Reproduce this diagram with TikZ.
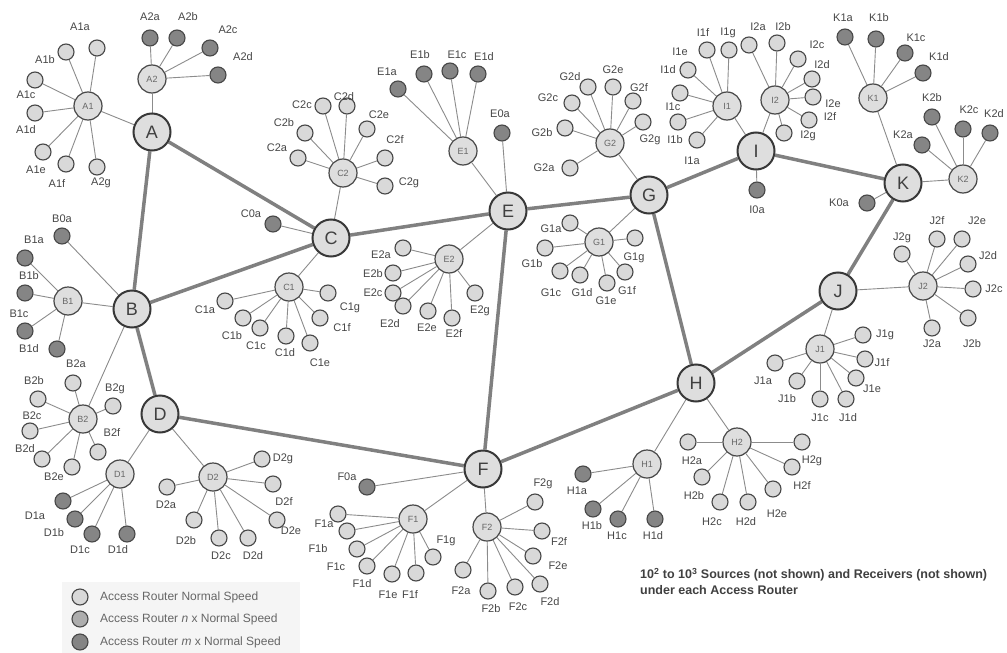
\documentclass[tikz,border=0pt]{standalone}
\usepackage{fontspec}
\setmainfont{Liberation Sans}
\usetikzlibrary{backgrounds}

\tikzset{
  core/.style={circle, draw=black!78, line width=2pt, fill=black!13, minimum size=37pt,
    inner sep=0pt, font=\fontsize{18}{18}\selectfont, text=black!75},
  acc/.style={circle, draw=black!72, line width=1.2pt, fill=black!13, minimum size=28pt,
    inner sep=0pt, font=\fontsize{9}{9}\selectfont, text=black!60},
  light/.style={circle, draw=black!72, line width=1.1pt, fill=black!15, minimum size=16pt, inner sep=0pt},
  dark/.style={light, fill=black!48},
  medium/.style={light, fill=black!32},
  lbl/.style={inner sep=0pt, font=\fontsize{11}{11}\selectfont, text=black!72},
  legendtext/.style={inner sep=0pt, anchor=west, font=\fontsize{12}{12}\selectfont, text=black!60},
  notetext/.style={inner sep=0pt, anchor=west, font=\bfseries\fontsize{12.5}{12.5}\selectfont, text=black!75},
  trunk/.style={draw=black!50, line width=3.5pt},
  twig/.style={draw=black!45, line width=0.9pt},
}

% leaf router: name, parent, position, label position, label text, style
\newcommand\leafnode[6]{%
  \node[#6] (#1) at (#3) {};
  \node[lbl] (#1-l) at (#4) {#5};
  \begin{scope}[on background layer]\draw[twig] (#2) -- (#1);\end{scope}}
% access router hanging from a core router
\newcommand\accnode[3]{%
  \node[acc] (#1) at (#3) {#1};
  \begin{scope}[on background layer]\draw[twig] (#2) -- (#1);\end{scope}}

\begin{document}
\begin{tikzpicture}[x=1pt, y=-1pt]
\useasboundingbox (0,0) rectangle (1007,653);
\begin{scope}[on background layer]
  \fill[white] (0,0) rectangle (1007,653);
  \fill[black!4] (62,582) rectangle (300,653);
\end{scope}

% ---------- core routers ----------
\node[core] (A) at (152,132) {A};
\node[core] (B) at (132,309) {B};
\node[core] (C) at (331,238) {C};
\node[core] (D) at (160,414) {D};
\node[core] (E) at (508,211) {E};
\node[core] (F) at (483,469) {F};
\node[core] (G) at (649,195) {G};
\node[core] (H) at (696,383) {H};
\node[core] (I) at (756,151) {I};
\node[core] (J) at (838,291) {J};
\node[core] (K) at (903,183) {K};

\begin{scope}[on background layer]
  \draw[trunk] (A) -- (B);
  \draw[trunk] (A) -- (C);
  \draw[trunk] (B) -- (C);
  \draw[trunk] (B) -- (D);
  \draw[trunk] (C) -- (E);
  \draw[trunk] (D) -- (F);
  \draw[trunk] (E) -- (F);
  \draw[trunk] (E) -- (G);
  \draw[trunk] (G) -- (I);
  \draw[trunk] (G) -- (H);
  \draw[trunk] (F) -- (H);
  \draw[trunk] (H) -- (J);
  \draw[trunk] (J) -- (K);
  \draw[trunk] (I) -- (K);
\end{scope}

% ---------- access routers ----------
\accnode{A1}{A}{88,106}
\accnode{A2}{A}{152,79}
\accnode{B1}{B}{68,301}
\accnode{B2}{B}{83,419}
\accnode{C1}{C}{289,287}
\accnode{C2}{C}{343,173}
\accnode{D1}{D}{120,474}
\accnode{D2}{D}{213,477}
\accnode{E1}{E}{463,151}
\accnode{E2}{E}{449,259}
\accnode{F1}{F}{413,519}
\accnode{F2}{F}{487,527}
\accnode{G1}{G}{599,242}
\accnode{G2}{G}{610,143}
\accnode{H1}{H}{647,464}
\accnode{H2}{H}{737,442}
\accnode{I1}{I}{727,106}
\accnode{I2}{I}{775,100}
\accnode{J1}{J}{820,349}
\accnode{J2}{J}{923,286}
\accnode{K1}{K}{873,98}
\accnode{K2}{K}{963,179}

% ---------- routers attached straight to the core ----------
\leafnode{B0a}{B}{62,236}{62,219}{B0a}{dark}
\leafnode{C0a}{C}{273,224}{251,214}{C0a}{dark}
\leafnode{E0a}{E}{502,133}{500,114}{E0a}{dark}
\leafnode{F0a}{F}{367,487}{347,477}{F0a}{dark}
\leafnode{I0a}{I}{757,190}{757,210}{I0a}{dark}
\leafnode{K0a}{K}{867,203}{839,203}{K0a}{dark}

% ---------- A ----------
\leafnode{A1a}{A1}{97,48}{80,27}{A1a}{light}
\leafnode{A1b}{A1}{66,52}{45,60}{A1b}{light}
\leafnode{A1c}{A1}{35,80}{26,95}{A1c}{light}
\leafnode{A1d}{A1}{35,113}{26,130}{A1d}{light}
\leafnode{A1e}{A1}{43,152}{36,170}{A1e}{light}
\leafnode{A1f}{A1}{66,164}{57,184}{A1f}{light}
\leafnode{A1g}{A1}{97,167}{101,183}{A2g}{light}
\leafnode{A2a}{A2}{150,38}{150,17}{A2a}{dark}
\leafnode{A2b}{A2}{177,38}{188,17}{A2b}{dark}
\leafnode{A2c}{A2}{210,48}{228,30}{A2c}{dark}
\leafnode{A2d}{A2}{218,75}{243,57}{A2d}{dark}

% ---------- B ----------
\leafnode{B1a}{B1}{25,258}{34,240}{B1a}{dark}
\leafnode{B1b}{B1}{25,293}{29,276}{B1b}{dark}
\leafnode{B1c}{B1}{25,331}{19,314}{B1c}{dark}
\leafnode{B1d}{B1}{57,349}{29,349}{B1d}{dark}
\leafnode{B2a}{B2}{73,383}{76,364}{B2a}{light}
\leafnode{B2b}{B2}{38,399}{34,381}{B2b}{light}
\leafnode{B2c}{B2}{30,431}{32,416}{B2c}{light}
\leafnode{B2d}{B2}{42,459}{25,449}{B2d}{light}
\leafnode{B2e}{B2}{72,467}{54,477}{B2e}{light}
\leafnode{B2f}{B2}{98,452}{112,433}{B2f}{light}
\leafnode{B2g}{B2}{113,406}{115,389}{B2g}{light}

% ---------- C ----------
\leafnode{C1a}{C1}{225,301}{205,310}{C1a}{light}
\leafnode{C1b}{C1}{243,318}{232,336}{C1b}{light}
\leafnode{C1c}{C1}{260,328}{256,346}{C1c}{light}
\leafnode{C1d}{C1}{286,336}{285,353}{C1d}{light}
\leafnode{C1e}{C1}{310,343}{320,363}{C1e}{light}
\leafnode{C1f}{C1}{320,318}{342,328}{C1f}{light}
\leafnode{C1g}{C1}{328,293}{350,308}{C1g}{light}
\leafnode{C2a}{C2}{298,158}{277,148}{C2a}{light}
\leafnode{C2b}{C2}{305,133}{284,123}{C2b}{light}
\leafnode{C2c}{C2}{323,106}{302,105}{C2c}{light}
\leafnode{C2d}{C2}{347,106}{344,97}{C2d}{light}
\leafnode{C2e}{C2}{367,129}{379,115}{C2e}{light}
\leafnode{C2f}{C2}{385,158}{395,140}{C2f}{light}
\leafnode{C2g}{C2}{385,186}{409,183}{C2g}{light}

% ---------- D ----------
\leafnode{D1a}{D1}{63,501}{35,516}{D1a}{dark}
\leafnode{D1b}{D1}{75,519}{54,533}{D1b}{dark}
\leafnode{D1c}{D1}{92,534}{80,550}{D1c}{dark}
\leafnode{D1d}{D1}{127,534}{118,550}{D1d}{dark}
\leafnode{D2a}{D2}{167,487}{166,505}{D2a}{light}
\leafnode{D2b}{D2}{194,520}{186,541}{D2b}{light}
\leafnode{D2c}{D2}{219,538}{221,556}{D2c}{light}
\leafnode{D2d}{D2}{248,538}{253,556}{D2d}{light}
\leafnode{D2e}{D2}{277,520}{291,531}{D2e}{light}
\leafnode{D2f}{D2}{273,484}{284,502}{D2f}{light}
\leafnode{D2g}{D2}{262,459}{283,459}{D2g}{light}

% ---------- E ----------
\leafnode{E1a}{E1}{398,89}{387,72}{E1a}{dark}
\leafnode{E1b}{E1}{424,74}{420,55}{E1b}{dark}
\leafnode{E1c}{E1}{450,71}{457,55}{E1c}{dark}
\leafnode{E1d}{E1}{478,74}{484,57}{E1d}{dark}
\leafnode{E2a}{E2}{403,248}{381,255}{E2a}{light}
\leafnode{E2b}{E2}{393,273}{373,274}{E2b}{light}
\leafnode{E2c}{E2}{393,293}{373,293}{E2c}{light}
\leafnode{E2d}{E2}{403,306}{390,324}{E2d}{light}
\leafnode{E2e}{E2}{428,311}{427,328}{E2e}{light}
\leafnode{E2f}{E2}{452,318}{454,334}{E2f}{light}
\leafnode{E2g}{E2}{475,293}{480,311}{E2g}{light}

% ---------- F ----------
\leafnode{F1a}{F1}{338,514}{324,524}{F1a}{light}
\leafnode{F1b}{F1}{347,531}{318,549}{F1b}{light}
\leafnode{F1c}{F1}{357,549}{336,567}{F1c}{light}
\leafnode{F1d}{F1}{367,566}{362,584}{F1d}{light}
\leafnode{F1e}{F1}{392,574}{388,595}{F1e}{light}
\leafnode{F1f}{F1}{416,573}{410,595}{F1f}{light}
\leafnode{F1g}{F1}{433,557}{446,541}{F1g}{light}
\leafnode{F2a}{F2}{463,570}{461,591}{F2a}{light}
\leafnode{F2b}{F2}{488,591}{491,609}{F2b}{light}
\leafnode{F2c}{F2}{515,587}{518,607}{F2c}{light}
\leafnode{F2d}{F2}{540,584}{550,602}{F2d}{light}
\leafnode{F2e}{F2}{533,556}{558,566}{F2e}{light}
\leafnode{F2f}{F2}{542,531}{559,542}{F2f}{light}
\leafnode{F2g}{F2}{535,502}{543,484}{F2g}{light}

% ---------- G ----------
\leafnode{G1a}{G1}{570,223}{551,229}{G1a}{light}
\leafnode{G1b}{G1}{545,248}{532,264}{G1b}{light}
\leafnode{G1c}{G1}{560,271}{551,293}{G1c}{light}
\leafnode{G1d}{G1}{580,275}{582,293}{G1d}{light}
\leafnode{G1e}{G1}{607,283}{606,301}{G1e}{light}
\leafnode{G1f}{G1}{625,272}{627,291}{G1f}{light}
\leafnode{G1g}{G1}{635,238}{634,258}{G1g}{light}
\leafnode{G2a}{G2}{570,168}{544,168}{G2a}{light}
\leafnode{G2b}{G2}{565,128}{542,133}{G2b}{light}
\leafnode{G2c}{G2}{572,103}{548,98}{G2c}{light}
\leafnode{G2d}{G2}{588,87}{570,77}{G2d}{light}
\leafnode{G2e}{G2}{613,87}{613,70}{G2e}{light}
\leafnode{G2f}{G2}{633,101}{639,88}{G2f}{light}
\leafnode{G2g}{G2}{643,122}{650,140}{G2g}{light}

% ---------- H ----------
\leafnode{H1a}{H1}{583,474}{577,491}{H1a}{dark}
\leafnode{H1b}{H1}{593,509}{592,526}{H1b}{dark}
\leafnode{H1c}{H1}{618,519}{617,536}{H1c}{dark}
\leafnode{H1d}{H1}{655,519}{653,536}{H1d}{dark}
\leafnode{H2a}{H2}{688,442}{692,461}{H2a}{light}
\leafnode{H2b}{H2}{702,477}{694,496}{H2b}{light}
\leafnode{H2c}{H2}{720,502}{712,522}{H2c}{light}
\leafnode{H2d}{H2}{748,502}{746,522}{H2d}{light}
\leafnode{H2e}{H2}{773,489}{777,514}{H2e}{light}
\leafnode{H2f}{H2}{792,467}{802,486}{H2f}{light}
\leafnode{H2g}{H2}{802,442}{812,461}{H2g}{light}

% ---------- I ----------
\leafnode{I1a}{I1}{697,140}{692,161}{I1a}{light}
\leafnode{I1b}{I1}{678,122}{675,140}{I1b}{light}
\leafnode{I1c}{I1}{680,93}{673,107}{I1c}{light}
\leafnode{I1d}{I1}{688,70}{668,70}{I1d}{light}
\node[lbl] (I1e-l) at (680,52) {I1e};
\leafnode{I1f}{I1}{707,50}{703,33}{I1f}{light}
\leafnode{I1g}{I1}{729,50}{728,33}{I1g}{light}
\leafnode{I2a}{I2}{749,45}{758,27}{I2a}{light}
\leafnode{I2b}{I2}{777,43}{783,27}{I2b}{light}
\leafnode{I2c}{I2}{798,59}{817,45}{I2c}{light}
\leafnode{I2d}{I2}{812,79}{822,65}{I2d}{light}
\leafnode{I2e}{I2}{813,97}{833,104}{I2e}{light}
\leafnode{I2f}{I2}{809,120}{830,117}{I2f}{light}
\leafnode{I2g}{I2}{784,133}{808,136}{I2g}{light}

% ---------- J ----------
\leafnode{J1a}{J1}{775,363}{763,381}{J1a}{light}
\leafnode{J1b}{J1}{797,381}{787,399}{J1b}{light}
\leafnode{J1c}{J1}{820,399}{820,418}{J1c}{light}
\leafnode{J1d}{J1}{846,399}{848,418}{J1d}{light}
\leafnode{J1e}{J1}{856,378}{872,389}{J1e}{light}
\leafnode{J1f}{J1}{865,359}{882,363}{J1f}{light}
\leafnode{J1g}{J1}{863,335}{885,335}{J1g}{light}
\leafnode{J2a}{J2}{932,328}{932,344}{J2a}{light}
\leafnode{J2b}{J2}{968,318}{972,344}{J2b}{light}
\leafnode{J2c}{J2}{973,289}{994,289}{J2c}{light}
\leafnode{J2d}{J2}{968,264}{988,256}{J2d}{light}
\leafnode{J2e}{J2}{962,239}{977,221}{J2e}{light}
\leafnode{J2f}{J2}{937,239}{937,221}{J2f}{light}
\leafnode{J2g}{J2}{902,254}{902,238}{J2g}{light}

% ---------- K ----------
\leafnode{K1a}{K1}{845,37}{843,18}{K1a}{dark}
\leafnode{K1b}{K1}{876,39}{879,18}{K1b}{dark}
\leafnode{K1c}{K1}{905,53}{916,38}{K1c}{dark}
\leafnode{K1d}{K1}{923,73}{939,57}{K1d}{dark}
\leafnode{K2a}{K2}{922,145}{903,135}{K2a}{dark}
\leafnode{K2b}{K2}{932,117}{932,98}{K2b}{dark}
\leafnode{K2c}{K2}{963,129}{969,110}{K2c}{dark}
\leafnode{K2d}{K2}{990,133}{994,114}{K2d}{dark}

% ---------- legend ----------
\node[light]  (leg1) at (80,597) {};
\node[medium] (leg2) at (80,619) {};
\node[dark]   (leg3) at (80,642) {};
\node[legendtext] (leg1-t) at (100,597) {Access Router Normal Speed};
\node[legendtext] (leg2-t) at (100,619) {Access Router \textit{n} x Normal Speed};
\node[legendtext] (leg3-t) at (100,642) {Access Router \textit{m} x Normal Speed};

% ---------- note ----------
\node[notetext] (note1) at (640,575) {10\textsuperscript{2} to 10\textsuperscript{3} Sources (not shown) and Receivers (not shown)};
\node[notetext] (note2) at (640,590) {under each Access Router};
\end{tikzpicture}
\end{document}
